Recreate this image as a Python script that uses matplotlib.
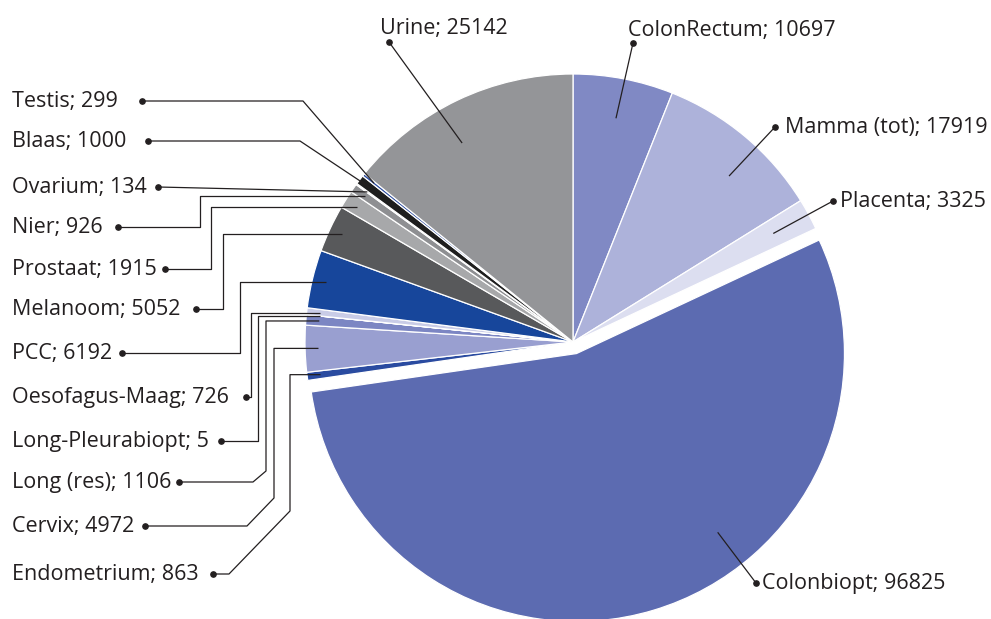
import numpy as np
import matplotlib.pyplot as plt

# data
labels = ['ColonRectum', 'Mamma (tot)', 'Placenta', 'Colonbiopt', 'Endometrium',
          'Cervix', 'Long (res)', 'Long-Pleurabiopt', 'Oesofagus-Maag', 'PCC',
          'Melanoom', 'Prostaat', 'Nier', 'Ovarium', 'Blaas', 'Testis', 'Urine']
values = [10697, 17919, 3325, 96825, 863, 4972, 1106, 5, 726, 6192,
          5052, 1915, 926, 134, 1000, 299, 25142]
colors = ['#8089c4', '#adb2da', '#dcdef0', '#5c6bb1', '#2a4ba0',
          '#999fd0', '#7c86c3', '#5c6bb1', '#c9cce7', '#17469b',
          '#58595b', '#a7a8aa', '#8e8f92', '#d0d1d3', '#1e1e1e', '#2a4ba0', '#949598']

# layout (pixels)
W, H = 991, 619
CX, CY, R = 573, 342, 268
TXT = '#231f20'
FS = 15.5
plt.rcParams['font.family'] = ['Open Sans', 'DejaVu Sans']


def to_data(x, y):
    return (x - CX) / R, (CY - y) / R


def to_px(x, y):
    return CX + x * R, CY - y * R


fig = plt.figure(figsize=(W / 100, H / 100), dpi=100)
ax = fig.add_axes([0, 0, 1, 1])
explode = [0.045 if l == 'Colonbiopt' else 0 for l in labels]
wedges, _ = ax.pie(values, colors=colors, startangle=90, counterclock=False,
                   explode=explode, radius=1,
                   wedgeprops=dict(edgecolor='white', linewidth=0.9))
ax.set_xlim(-CX / R, (W - CX) / R)
ax.set_ylim(-(H - CY) / R, CY / R)
ax.set_aspect('equal')
ax.axis('off')


def anchor(name, r, frac=0.5):
    # point inside a wedge: frac of its span measured clockwise, r times the radius
    w = wedges[labels.index(name)]
    a = np.deg2rad(w.theta2 - frac * (w.theta2 - w.theta1))
    cx, cy = w.center
    return to_px(cx + r * np.cos(a), cy + r * np.sin(a))


def draw_path(pts):
    d = np.array([to_data(x, y) for x, y in pts])
    ax.plot(d[:, 0], d[:, 1], color=TXT, lw=0.9, solid_capstyle='butt')
    ax.plot(d[0, 0], d[0, 1], 'o', color=TXT, ms=3.8)


def txt(s, x, y, ha='left'):
    bx, by = to_data(x, y)
    return ax.text(bx, by, s, fontsize=FS, color=TXT, ha=ha, va='baseline')


# left side labels: line y, dot x, elbows (x, dy from line y or None = anchor y)
left = {
    'Testis': (101, 142, [(303, 0)]),
    'Blaas': (141, 148, [(300, 0)]),
    'Ovarium': (187, 158, []),
    'Nier': (227, 118, [(200, 0), (200, None)]),
    'Prostaat': (269, 165, [(211, 0), (211, None)]),
    'Melanoom': (309, 196, [(223, 0), (223, None)]),
    'PCC': (353, 122, [(240, 0), (240, None)]),
    'Oesofagus-Maag': (397, 246, [(251, 0), (251, None)]),
    'Long-Pleurabiopt': (441, 221, [(258, 0), (258, None)]),
    'Long (res)': (482, 179, [(253, 0), (266, -11), (266, None)]),
    'Cervix': (526, 145, [(247, 0), (274, -28), (274, None)]),
    'Endometrium': (574, 213, [(229, 0), (290, -63), (290, None)]),
}

for name, (ty, dot_x, route) in left.items():
    v = values[labels.index(name)]
    txt(f'{name}; {v}', 12, ty + 6)
    ax_x, ax_y = anchor(name, 0.95)
    pts = [(dot_x, ty)]
    for x, dy in route:
        pts.append((x, ax_y if dy is None else ty + dy))
    pts.append((ax_x, ax_y))
    draw_path(pts)

# right / top labels: dot position, text position, anchor fraction
right = {
    'Urine': ((389, 42), (380, 34), 0.43),
    'ColonRectum': ((633, 43), (628, 36), 0.5),
    'Mamma (tot)': ((775, 127), (785, 133), 0.59),
    'Placenta': ((833, 201), (840, 207), 0.5),
    'Colonbiopt': ((756, 583), (762, 589), 0.39),
}
for name, (dot, tpos, frac) in right.items():
    v = values[labels.index(name)]
    txt(f'{name}; {v}', *tpos)
    draw_path([dot, anchor(name, 0.85, frac)])

fig.savefig('out.png', dpi=100)
